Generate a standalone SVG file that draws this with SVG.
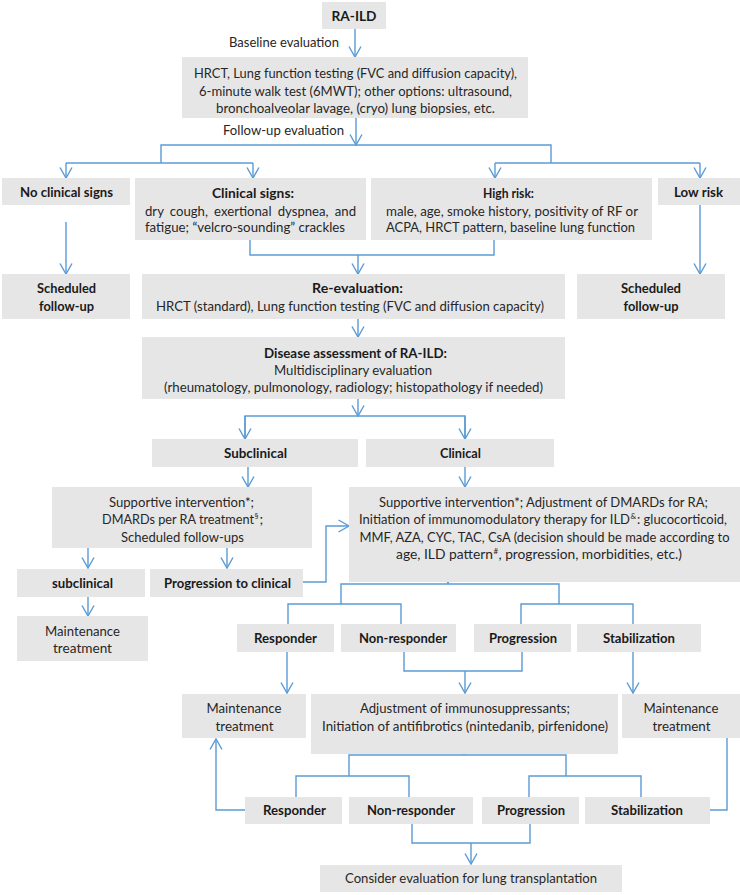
<svg xmlns="http://www.w3.org/2000/svg" width="740" height="895" viewBox="0 0 740 895">
<defs>
<style>
.box{fill:#e7e6e6;}
text{font-family:Lato,"Liberation Sans",Arial,sans-serif;font-size:14px;fill:#262626;}
.b{font-weight:bold;fill:#1a1a1a;}
.m{text-anchor:middle;}
.s13{font-size:13px;}
.s125{font-size:12.5px;}
.c path,.c line,.c polyline{fill:none;stroke:#5b9bd5;stroke-width:1.4;}
.sup{font-size:8px;}
</style>
<marker id="ah" markerUnits="userSpaceOnUse" markerWidth="14" markerHeight="14" viewBox="0 0 14 14" refX="12" refY="7" orient="auto">
<path d="M1.5,1 L12,7 L1.5,13" fill="none" stroke="#5b9bd5" stroke-width="1.4"/>
</marker>
</defs>
<rect width="740" height="895" fill="#ffffff"/>

<g class="c" id="connectors">
<line x1="355" y1="29" x2="355" y2="57" marker-end="url(#ah)"/>
<line x1="356" y1="118" x2="356" y2="145" marker-end="url(#ah)"/>
<polyline points="161,163 161,145 551,145 551,163"/>
<polyline points="66,163 253,163"/>
<polyline points="495,163 700,163"/>
<line x1="66" y1="163" x2="66" y2="178" marker-end="url(#ah)"/>
<line x1="253" y1="163" x2="253" y2="178" marker-end="url(#ah)"/>
<line x1="495" y1="163" x2="495" y2="178" marker-end="url(#ah)"/>
<line x1="700" y1="163" x2="700" y2="178" marker-end="url(#ah)"/>
<line x1="66" y1="222" x2="66" y2="274" marker-end="url(#ah)"/>
<line x1="700" y1="205" x2="700" y2="274" marker-end="url(#ah)"/>
<polyline points="250,240 250,255 494,255 494,240"/>
<line x1="358" y1="255" x2="358" y2="274" marker-end="url(#ah)"/>
<line x1="358" y1="319" x2="358" y2="337" marker-end="url(#ah)"/>
<line x1="358" y1="399" x2="358" y2="416" marker-end="url(#ah)"/>
<polyline points="245,439 245,416 465,416 465,439"/>
<line x1="245" y1="416" x2="245" y2="439" marker-end="url(#ah)"/>
<line x1="465" y1="416" x2="465" y2="439" marker-end="url(#ah)"/>
<line x1="248" y1="467" x2="248" y2="487" marker-end="url(#ah)"/>
<line x1="465" y1="467" x2="465" y2="487" marker-end="url(#ah)"/>
<line x1="88" y1="548" x2="88" y2="568" marker-end="url(#ah)"/>
<line x1="227" y1="548" x2="227" y2="568" marker-end="url(#ah)"/>
<polyline points="303,582 326,582 326,526 349,526" marker-end="url(#ah)"/>
<line x1="88" y1="597" x2="88" y2="616" marker-end="url(#ah)"/>
<line x1="448" y1="570" x2="448" y2="583" marker-end="url(#ah)"/>
<polyline points="341,604 341,584 559,584 559,604"/>
<polyline points="288,624 288,604 401,604 401,624"/>
<polyline points="521,624 521,604 633,604 633,624"/>
<line x1="287" y1="652" x2="287" y2="693" marker-end="url(#ah)"/>
<polyline points="404,652 404,671 522,671 522,652"/>
<line x1="465" y1="671" x2="465" y2="693" marker-end="url(#ah)"/>
<line x1="633" y1="652" x2="633" y2="693" marker-end="url(#ah)"/>
<line x1="464" y1="742" x2="464" y2="754" marker-end="url(#ah)"/>
<polyline points="349,776 349,755 566,755 566,776"/>
<polyline points="296,797 296,776 409,776 409,797"/>
<polyline points="529,797 529,776 641,776 641,797"/>
<polyline points="245,810 216,810 216,739" marker-end="url(#ah)"/>
<polyline points="710,810 727,810 727,738"/>
<polyline points="412,824 412,843 530,843 530,824"/>
<line x1="471" y1="843" x2="471" y2="864" marker-end="url(#ah)"/>
</g>

<g id="n-raild"><rect class="box" x="322" y="2" width="64" height="27"/>
<text class="b m" x="354" y="21" textLength="45" lengthAdjust="spacingAndGlyphs">RA-ILD</text></g>
<g id="l-baseline"><text x="229" y="47" textLength="110" lengthAdjust="spacingAndGlyphs">Baseline evaluation</text></g>
<g id="n-hrct"><rect class="box" x="182" y="57" width="346" height="61"/>
<text class="m" x="355.5" y="78" textLength="323" lengthAdjust="spacingAndGlyphs">HRCT, Lung function testing (FVC and diffusion capacity),</text>
<text class="m" x="355.5" y="96" textLength="313" lengthAdjust="spacingAndGlyphs">6-minute walk test (6MWT); other options: ultrasound,</text>
<text class="m" x="355.5" y="113" textLength="279" lengthAdjust="spacingAndGlyphs">bronchoalveolar lavage, (cryo) lung biopsies, etc.</text></g>
<g id="l-followup"><text x="223" y="135" textLength="121" lengthAdjust="spacingAndGlyphs">Follow-up evaluation</text></g>

<g id="n-noclin"><rect class="box" x="2" y="178" width="128" height="27"/>
<text class="b m" x="66.5" y="197" textLength="93" lengthAdjust="spacingAndGlyphs">No clinical signs</text></g>
<g id="n-clinsigns"><rect class="box" x="135" y="178" width="231" height="62"/>
<text class="b m" x="253" y="198" textLength="82" lengthAdjust="spacingAndGlyphs">Clinical signs:</text>
<text x="145" y="216" textLength="211" lengthAdjust="spacingAndGlyphs" word-spacing="3">dry cough, exertional dyspnea, and</text>
<text x="145" y="232" textLength="200" lengthAdjust="spacingAndGlyphs">fatigue; “velcro-sounding” crackles</text></g>
<g id="n-highrisk"><rect class="box" x="371" y="178" width="281" height="62"/>
<text class="b m" x="508.5" y="198" textLength="51" lengthAdjust="spacingAndGlyphs">High risk:</text>
<text x="386" y="216" textLength="252" lengthAdjust="spacingAndGlyphs">male, age, smoke history, positivity of RF or</text>
<text x="386" y="232" textLength="249" lengthAdjust="spacingAndGlyphs">ACPA, HRCT pattern, baseline lung function</text></g>
<g id="n-lowrisk"><rect class="box" x="658" y="178" width="82" height="27"/>
<text class="b m" x="698.5" y="197" textLength="49" lengthAdjust="spacingAndGlyphs">Low risk</text></g>

<g id="n-sched1"><rect class="box" x="2" y="274" width="128" height="45"/>
<text class="b m" x="66.5" y="293" textLength="59" lengthAdjust="spacingAndGlyphs">Scheduled</text>
<text class="b m" x="66.5" y="311" textLength="55" lengthAdjust="spacingAndGlyphs">follow-up</text></g>
<g id="n-reeval"><rect class="box" x="142" y="274" width="423" height="45"/>
<text class="b m" x="357.5" y="293" textLength="91" lengthAdjust="spacingAndGlyphs">Re-evaluation:</text>
<text class="m" x="350" y="311" textLength="388" lengthAdjust="spacingAndGlyphs">HRCT (standard), Lung function testing (FVC and diffusion capacity)</text></g>
<g id="n-sched2"><rect class="box" x="577" y="274" width="148" height="45"/>
<text class="b m" x="651" y="293" textLength="60" lengthAdjust="spacingAndGlyphs">Scheduled</text>
<text class="b m" x="651" y="311" textLength="55" lengthAdjust="spacingAndGlyphs">follow-up</text></g>

<g id="n-disease"><rect class="box" x="142" y="337" width="423" height="62"/>
<text class="b m" x="355.5" y="358" textLength="183" lengthAdjust="spacingAndGlyphs">Disease assessment of RA-ILD:</text>
<text class="m" x="353" y="375" textLength="158" lengthAdjust="spacingAndGlyphs">Multidisciplinary evaluation</text>
<text class="m" x="353.5" y="392" textLength="379" lengthAdjust="spacingAndGlyphs">(rheumatology, pulmonology, radiology; histopathology if needed)</text></g>

<g id="n-subclin"><rect class="box" x="152" y="439" width="206" height="28"/>
<text class="b m" x="255.5" y="458" textLength="63" lengthAdjust="spacingAndGlyphs">Subclinical</text></g>
<g id="n-clin"><rect class="box" x="366" y="439" width="188" height="28"/>
<text class="b m" x="460.5" y="458" textLength="41" lengthAdjust="spacingAndGlyphs">Clinical</text></g>

<g id="n-support1"><rect class="box" x="52" y="487" width="260" height="61"/>
<text class="m" x="181.5" y="507" textLength="145" lengthAdjust="spacingAndGlyphs">Supportive intervention*;</text>
<text class="s125" x="102" y="524" textLength="152" lengthAdjust="spacingAndGlyphs">DMARDs per RA treatment</text>
<text class="sup" x="254.5" y="519">§</text>
<text x="259.5" y="524">;</text>
<text class="m" x="182.5" y="542" textLength="123" lengthAdjust="spacingAndGlyphs">Scheduled follow-ups</text></g>
<g id="n-support2"><rect class="box" x="349" y="487" width="391" height="95"/>
<text class="m" x="543.5" y="507" textLength="329" lengthAdjust="spacingAndGlyphs">Supportive intervention*; Adjustment of DMARDs for RA;</text>
<text class="s13" x="359" y="524" textLength="271" lengthAdjust="spacingAndGlyphs">Initiation of immunomodulatory therapy for ILD</text>
<text class="sup" x="630.5" y="519">&amp;</text>
<text class="s13" x="637" y="524" textLength="90" lengthAdjust="spacingAndGlyphs">: glucocorticoid,</text>
<text class="m s125" x="544.5" y="542" textLength="370" lengthAdjust="spacingAndGlyphs">MMF, AZA, CYC, TAC, CsA (decision should be made according to</text>
<text class="s13" x="396" y="559" textLength="97" lengthAdjust="spacingAndGlyphs">age, ILD pattern</text>
<text class="sup" x="493.5" y="554">#</text>
<text class="s13" x="498.5" y="559" textLength="183.5" lengthAdjust="spacingAndGlyphs">, progression, morbidities, etc.)</text></g>

<g id="n-subclin2"><rect class="box" x="17" y="569" width="128" height="28"/>
<text class="b m" x="82.5" y="588" textLength="61" lengthAdjust="spacingAndGlyphs">subclinical</text></g>
<g id="n-prog2clin"><rect class="box" x="150" y="569" width="153" height="28"/>
<text class="b m" x="227.5" y="588" textLength="127" lengthAdjust="spacingAndGlyphs">Progression to clinical</text></g>
<g id="n-maint1"><rect class="box" x="17" y="616" width="131" height="45"/>
<text class="m" x="82.5" y="636" textLength="75" lengthAdjust="spacingAndGlyphs">Maintenance</text>
<text class="m" x="82.5" y="653" textLength="59" lengthAdjust="spacingAndGlyphs">treatment</text></g>

<g id="n-resp1"><rect class="box" x="237" y="624" width="97" height="28"/>
<text class="b m" x="285.5" y="643" textLength="63" lengthAdjust="spacingAndGlyphs">Responder</text></g>
<g id="n-nonresp1"><rect class="box" x="341" y="624" width="115" height="28"/>
<text class="b m" x="403" y="643" textLength="88" lengthAdjust="spacingAndGlyphs">Non-responder</text></g>
<g id="n-prog1"><rect class="box" x="474" y="624" width="97" height="28"/>
<text class="b m" x="523" y="643" textLength="68" lengthAdjust="spacingAndGlyphs">Progression</text></g>
<g id="n-stab1"><rect class="box" x="577" y="624" width="124" height="28"/>
<text class="b m" x="639" y="643" textLength="72" lengthAdjust="spacingAndGlyphs">Stabilization</text></g>

<g id="n-maint2"><rect class="box" x="182" y="694" width="124" height="44"/>
<text class="m" x="244" y="713" textLength="75" lengthAdjust="spacingAndGlyphs">Maintenance</text>
<text class="m" x="244.5" y="731" textLength="58" lengthAdjust="spacingAndGlyphs">treatment</text></g>
<g id="n-adjust"><rect class="box" x="311" y="694" width="307" height="60"/>
<text class="m" x="465" y="713" textLength="210" lengthAdjust="spacingAndGlyphs">Adjustment of immunosuppressants;</text>
<text class="m" x="465" y="731" textLength="286" lengthAdjust="spacingAndGlyphs">Initiation of antifibrotics (nintedanib, pirfenidone)</text></g>
<g id="n-maint3"><rect class="box" x="622" y="694" width="118" height="44"/>
<text class="m" x="681" y="713" textLength="75" lengthAdjust="spacingAndGlyphs">Maintenance</text>
<text class="m" x="681.5" y="731" textLength="58" lengthAdjust="spacingAndGlyphs">treatment</text></g>

<g id="n-resp2"><rect class="box" x="245" y="797" width="97" height="27"/>
<text class="b m" x="294.5" y="815" textLength="63" lengthAdjust="spacingAndGlyphs">Responder</text></g>
<g id="n-nonresp2"><rect class="box" x="349" y="797" width="124" height="27"/>
<text class="b m" x="411" y="815" textLength="88" lengthAdjust="spacingAndGlyphs">Non-responder</text></g>
<g id="n-prog2"><rect class="box" x="482" y="797" width="97" height="27"/>
<text class="b m" x="531" y="815" textLength="68" lengthAdjust="spacingAndGlyphs">Progression</text></g>
<g id="n-stab2"><rect class="box" x="585" y="797" width="125" height="27"/>
<text class="b m" x="647" y="815" textLength="72" lengthAdjust="spacingAndGlyphs">Stabilization</text></g>

<g id="n-transplant"><rect class="box" x="320" y="865" width="302" height="27"/>
<text class="m" x="471" y="883" textLength="252" lengthAdjust="spacingAndGlyphs">Consider evaluation for lung transplantation</text></g>
</svg>
